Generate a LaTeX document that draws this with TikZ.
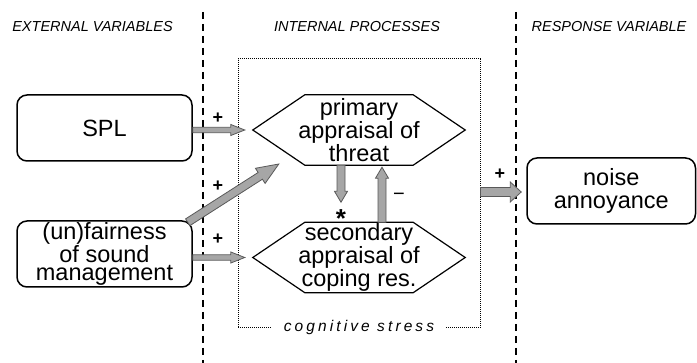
\documentclass[tikz,border=0pt]{standalone}
\usepackage{fontspec}
\setmainfont{Liberation Sans}
\newfontfamily\spacedit[LetterSpace=20]{Liberation Sans}
\usetikzlibrary{calc}

\tikzset{
  box/.style={draw, line width=1.5pt, rounded corners=10pt, minimum width=175, minimum height=66,
    align=center, font=\fontsize{23.5}{18}\selectfont, inner sep=0pt},
  hexbox/.style={minimum width=212, minimum height=70, align=center,
    font=\fontsize{23.5}{16}\selectfont, inner sep=0pt},
  hexline/.style={draw, line width=1.2pt, line join=miter},
  heading/.style={font=\itshape\fontsize{14.5}{16}\selectfont, inner sep=0pt},
  sign/.style={font=\bfseries\fontsize{18}{18}\selectfont, inner sep=0pt},
  divider/.style={line width=1.8pt, dash pattern=on 7pt off 5pt},
  stressbox/.style={draw, line width=1pt, dash pattern=on 1pt off 1pt, minimum width=242, minimum height=269, inner sep=0pt},
  stresslabel/.style={fill=white, inner xsep=12pt, inner ysep=2pt, font=\spacedit\itshape\fontsize{15.5}{16}\selectfont},
  fat/.style={draw=black!65, fill=black!35, line width=0.8pt, line join=miter},
}

% \fatarrow{start}{end}{half shaft}{half head}{head length}
\newcommand{\fatarrow}[5]{%
  \draw[fat] ($(#1)!#3!90:(#2)$) -- ($(#2)!#5!(#1)!#3!90:(#2)$)
    -- ($(#2)!#5!(#1)!#4!90:(#2)$) -- (#2)
    -- ($(#2)!#5!(#1)!#4!-90:(#2)$) -- ($(#2)!#5!(#1)!#3!-90:(#2)$)
    -- ($(#1)!#3!-90:(#2)$) -- cycle;}

\newcommand{\hexagon}[1]{%
  \draw[hexline] (#1.west) -- ($(#1.north west)+(52,0)$) -- ($(#1.north east)+(-52,0)$)
    -- (#1.east) -- ($(#1.south east)+(-52,0)$) -- ($(#1.south west)+(52,0)$) -- cycle;}

\begin{document}
\begin{tikzpicture}[x=1pt,y=-1pt]
\useasboundingbox (0,0) rectangle (697,363);

% dividers
\draw[divider] (203,12) -- (203,363);
\draw[divider] (516,12) -- (516,363);

% headings
\node[heading] (hext) at (92.5,27) {EXTERNAL VARIABLES};
\node[heading] (hint) at (357,27) {INTERNAL PROCESSES};
\node[heading] (hresp) at (609,27) {RESPONSE VARIABLE};

% cognitive stress frame
\node[stressbox] (stress) at (359,193.5) {};
\node[stresslabel] (stresslbl) at ($(stress.south)+(0,-1)$) {cognitive stress};

% boxes
\node[box] (spl) at (104.5,128) {SPL};
\node[box] (fair) at (104.5,254) {(un)fairness\\of sound\\management};
\node[box, minimum width=168.5, font=\fontsize{23.5}{23}\selectfont] (noise) at (611.25,191) {noise\\annoyance};

% hexagons
\node[hexbox] (prim) at (359,130) {primary\\appraisal of\\threat};
\node[hexbox] (sec) at (359,257.5) {secondary\\appraisal of\\coping res.};
\hexagon{prim}
\hexagon{sec}

% connector end points
\coordinate (a1s) at (spl.east |- prim.west);
\coordinate (a1e) at ($(prim.west)+(-8,0)$);
\coordinate (a2s) at ($(fair.north east)+(-5,2)$);
\coordinate (a2e) at ($(prim.west)+(26,34)$);
\coordinate (a3s) at (fair.east |- sec.west);
\coordinate (a3e) at ($(sec.west)+(-8,0)$);
\coordinate (a4s) at ($(prim.south)+(-18,0)$);
\coordinate (a4e) at ($(sec.north)+(-18,-20)$);
\coordinate (a5s) at ($(sec.north)+(23,0)$);
\coordinate (a5e) at ($(prim.south)+(23,2)$);
\coordinate (a6s) at (stress.east |- 0,192);
\coordinate (a6e) at ($(noise.west)+(-5,1)$);

\fatarrow{a1s}{a1e}{2.7pt}{5.5pt}{14pt}
\fatarrow{a2s}{a2e}{4pt}{9pt}{22pt}
\fatarrow{a3s}{a3e}{2.7pt}{5.5pt}{14pt}
\fatarrow{a4s}{a4e}{4pt}{6.5pt}{11pt}
\fatarrow{a5s}{a5e}{4pt}{6.5pt}{11pt}
\fatarrow{a6s}{a6e}{4.5pt}{10pt}{11pt}

% signs
\node[sign] (p1) at (218,118) {+};
\node[sign] (p2) at (218,186) {+};
\node[sign] (p3) at (218,239) {+};
\node[sign] (p4) at (500,174) {+};
\node[sign, font=\bfseries\fontsize{26}{26}\selectfont] (ast) at (341,212) {\raisebox{-11.5pt}[7.5pt][0pt]{*}};
\node[sign, font=\fontsize{20}{20}\selectfont] (minus) at (399,197) {−};
\end{tikzpicture}
\end{document}
